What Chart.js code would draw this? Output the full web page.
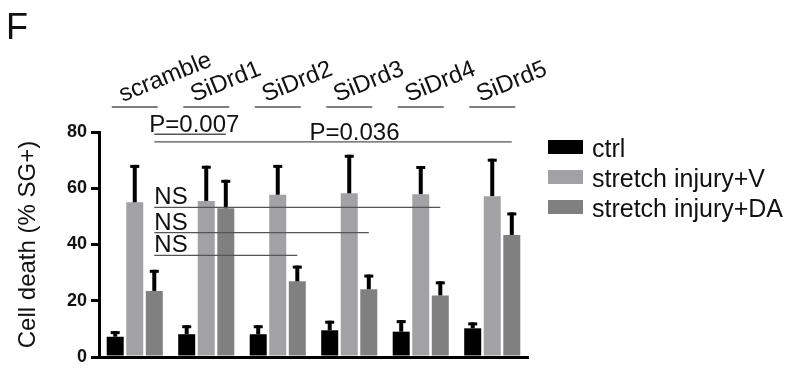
<!DOCTYPE html>
<html>
<head>
<meta charset="utf-8">
<script src="https://cdn.jsdelivr.net/npm/chart.js@4.4.1/dist/chart.umd.min.js"></script>
<style>
  html, body { margin: 0; padding: 0; background: #fff; }
  #wrap { width: 793px; height: 384px; }
</style>
</head>
<body>
<div id="wrap"><canvas id="chart"></canvas></div>
<script>
const groups = ["scramble", "SiDrd1", "SiDrd2", "SiDrd3", "SiDrd4", "SiDrd5"]
const seriesNames = ["ctrl", "stretch injury+V", "stretch injury+DA"]
const ctrl = [7.2, 8.1, 8.1, 9.5, 9.0, 10.2]
const ctrlErr = [2.0, 3.2, 3.2, 3.4, 4.1, 2.1]
const injuryV = [55.0, 55.5, 57.7, 58.2, 57.9, 57.2]
const injuryVErr = [13.3, 12.5, 10.6, 13.7, 10.0, 13.3]
const injuryDA = [23.5, 52.9, 26.9, 24.1, 21.9, 43.4]
const injuryDAErr = [7.5, 10.1, 5.6, 5.2, 5.0, 8.0]
const yTicks = [0, 20, 40, 60, 80]

// comparisons between DA bars: [from group, to group, level, label]
const pTests = [[0, 1, 79.2, "P=0.007"], [0, 5, 76.5, "P=0.036"]]
const nsTests = [[0, 4, 53.2, "NS"], [0, 3, 44.2, "NS"], [0, 2, 36.1, "NS"]]

const FONT = "'Liberation Sans', Arial, sans-serif"

const errorBars = {
  id: "errorBars",
  afterDatasetsDraw(chart) {
    const ctx = chart.ctx
    const y = chart.scales.y
    chart.data.datasets.forEach((ds, i) => {
      chart.getDatasetMeta(i).data.forEach((bar, j) => {
        const top = y.getPixelForValue(ds.data[j] + ds.errors[j])
        ctx.save()
        ctx.strokeStyle = "#000"
        ctx.lineWidth = 4
        ctx.beginPath()
        ctx.moveTo(bar.x, bar.y)
        ctx.lineTo(bar.x, top)
        ctx.stroke()
        ctx.lineWidth = 3
        ctx.beginPath()
        ctx.moveTo(bar.x - 4.5, top + 1.5)
        ctx.lineTo(bar.x + 4.5, top + 1.5)
        ctx.stroke()
        ctx.restore()
      })
    })
  }
}

const annotations = {
  id: "annotations",
  afterDraw(chart) {
    const ctx = chart.ctx
    const x = chart.scales.x
    const y = chart.scales.y
    const da = chart.getDatasetMeta(2).data
    ctx.save()
    ctx.fillStyle = "#111"
    ctx.strokeStyle = "#555"
    ctx.lineWidth = 1.3

    // panel letter
    ctx.font = "36px " + FONT
    ctx.fillText("F", 6, 39)

    // group names above the plot
    ctx.font = "24px " + FONT
    groups.forEach((g, i) => {
      const cx = x.getPixelForValue(i)
      ctx.beginPath()
      ctx.moveTo(cx - 23, 107)
      ctx.lineTo(cx + 23, 107)
      ctx.stroke()
      ctx.save()
      ctx.translate(cx - 12, 102)
      ctx.rotate(-22 * Math.PI / 180)
      ctx.fillText(g, 0, 0)
      ctx.restore()
    })

    // P value lines
    ctx.font = "24px " + FONT
    ctx.textAlign = "center"
    pTests.forEach(([a, b, lvl, label]) => {
      const x0 = da[a].x, x1 = da[b].x, py = y.getPixelForValue(lvl)
      ctx.beginPath()
      ctx.moveTo(x0, py)
      ctx.lineTo(x1, py)
      ctx.stroke()
      ctx.fillText(label, x0 + (x1 - x0) * 0.56, py - 2)
    })

    // NS lines
    ctx.textAlign = "left"
    nsTests.forEach(([a, b, lvl, label]) => {
      const x0 = da[a].x, x1 = da[b].x, py = y.getPixelForValue(lvl)
      ctx.beginPath()
      ctx.moveTo(x0, py)
      ctx.lineTo(x1, py)
      ctx.stroke()
      ctx.fillText(label, x0, py - 3)
    })

    // legend, from the datasets
    ctx.font = "25px " + FONT
    chart.data.datasets.forEach((ds, i) => {
      const top = 140 + i * 30
      ctx.fillStyle = ds.backgroundColor
      ctx.fillRect(548, top, 35, 14)
      ctx.fillStyle = "#111"
      ctx.fillText(ds.label, 592, top + 17)
    })
    ctx.restore()
  }
}

const chart = new Chart("chart", {
  type: "bar",
  data: {
    labels: groups,
    datasets: [
      { label: seriesNames[0], data: ctrl, errors: ctrlErr, backgroundColor: "#000000" },
      { label: seriesNames[1], data: injuryV, errors: injuryVErr, backgroundColor: "#a2a2a4" },
      { label: seriesNames[2], data: injuryDA, errors: injuryDAErr, backgroundColor: "#808080" }
    ]
  },
  options: {
    responsive: true,
    maintainAspectRatio: false,
    animation: false,
    categoryPercentage: 0.82,
    barPercentage: 0.87,
    layout: { padding: { top: 132, bottom: 19, left: 0, right: 265 } },
    plugins: {
      legend: { display: false },
      tooltip: { enabled: false }
    },
    scales: {
      x: {
        ticks: { display: false },
        grid: { display: false },
        border: { color: "#000", width: 3 }
      },
      y: {
        min: 0,
        max: 80,
        afterBuildTicks: axis => { axis.ticks = yTicks.map(v => ({ value: v })) },
        afterFit: axis => { axis.width = 99 },
        ticks: { color: "#111", padding: 4, font: { family: FONT, size: 18, weight: "bold" } },
        grid: { drawOnChartArea: false, drawTicks: true, tickLength: 8, color: "#000", lineWidth: 3 },
        border: { color: "#000", width: 3 },
        title: {
          display: true,
          text: "Cell death (% SG+)",
          color: "#111",
          padding: { top: 14, bottom: 0 },
          font: { family: FONT, size: 24 }
        }
      }
    }
  },
  plugins: [errorBars, annotations]
})
</script>
</body>
</html>
